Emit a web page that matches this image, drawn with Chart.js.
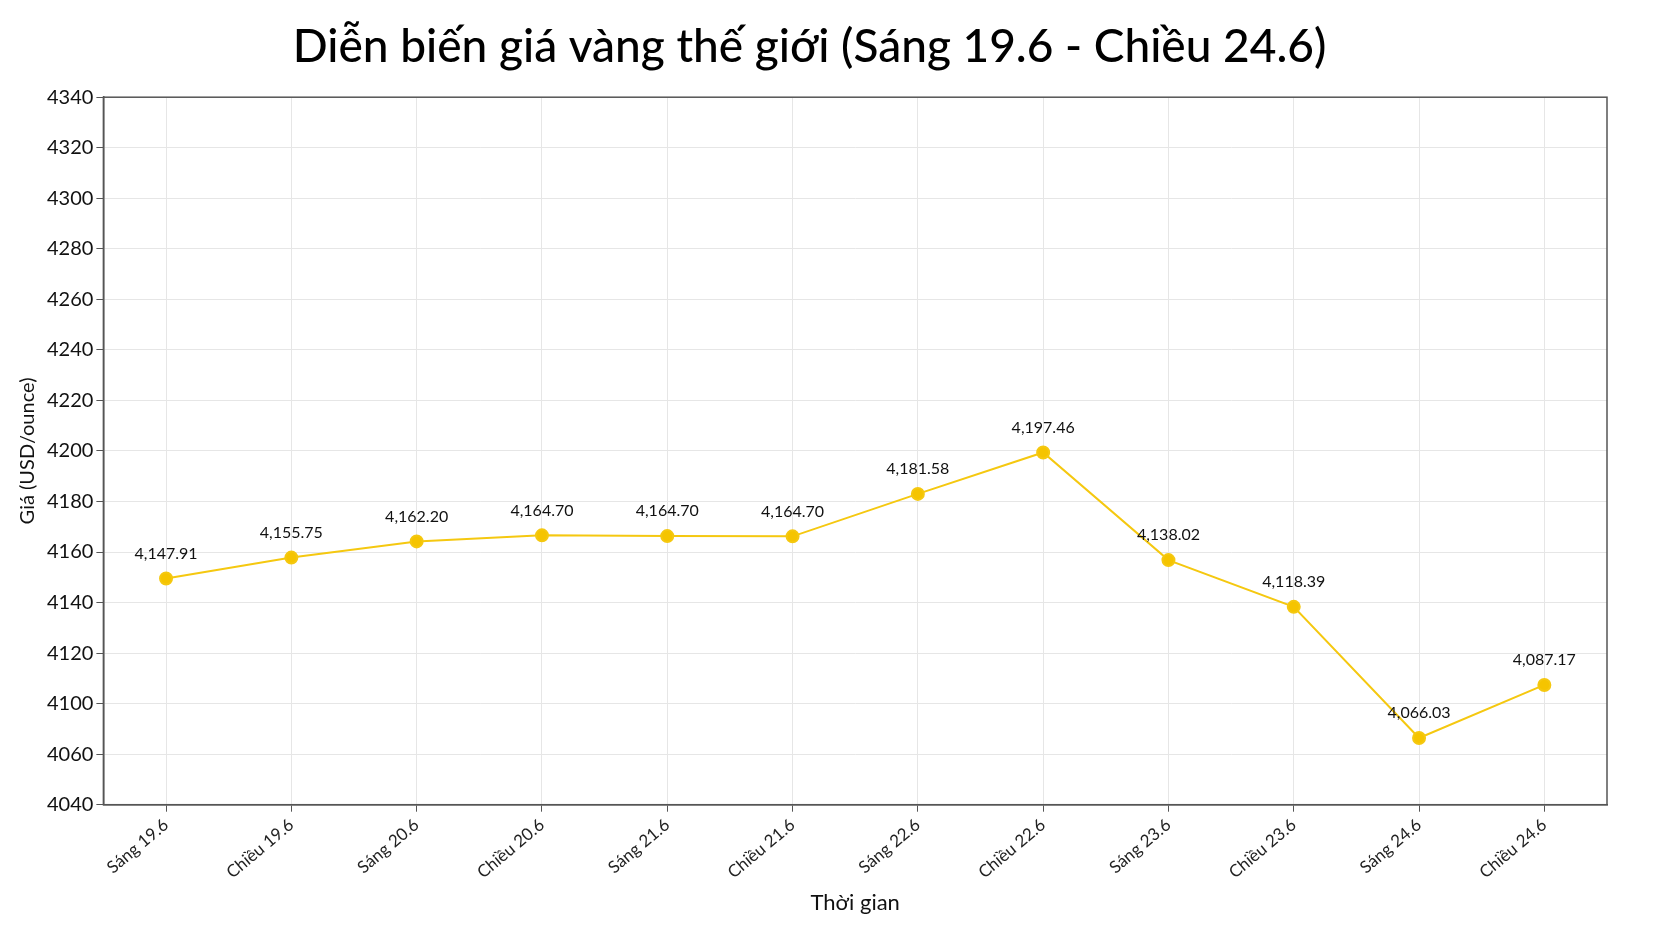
<!DOCTYPE html>
<html>
<head>
<meta charset="utf-8">
<script src="https://cdn.jsdelivr.net/npm/chart.js@4"></script>
<style>
  html, body { margin: 0; padding: 0; background: #fff; }
  #wrap { width: 1677px; height: 938px; }
</style>
</head>
<body>
<div id="wrap"><canvas id="c"></canvas></div>
<script>
// categories and values
const categories = ['Sáng 19.6', 'Chiều 19.6', 'Sáng 20.6', 'Chiều 20.6', 'Sáng 21.6', 'Chiều 21.6',
  'Sáng 22.6', 'Chiều 22.6', 'Sáng 23.6', 'Chiều 23.6', 'Sáng 24.6', 'Chiều 24.6']
const prices = [4149.5, 4157.8, 4164.2, 4166.6, 4166.3, 4166.2, 4183.0, 4199.4, 4156.8, 4138.3, 4086.4, 4107.4]
const priceLabels = ['4,147.91', '4,155.75', '4,162.20', '4,164.70', '4,164.70', '4,164.70',
  '4,181.58', '4,197.46', '4,138.02', '4,118.39', '4,066.03', '4,087.17']
// tick labels as printed on the axis (top to bottom)
const yTickLabels = ['4340', '4320', '4300', '4280', '4260', '4240', '4220', '4200', '4180', '4160',
  '4140', '4120', '4100', '4060', '4040']

const FONT = 'Lato, "Noto Sans", sans-serif'

const valueLabels = {
  id: 'valueLabels',
  afterDatasetsDraw(chart) {
    const ctx = chart.ctx
    const meta = chart.getDatasetMeta(0)
    ctx.save()
    ctx.font = '16px ' + FONT
    ctx.fillStyle = '#111'
    ctx.textAlign = 'center'
    ctx.textBaseline = 'bottom'
    meta.data.forEach((pt, i) => {
      ctx.fillText(priceLabels[i], pt.x, pt.y - 17)
    })
    ctx.restore()
  }
}

new Chart(document.getElementById('c'), {
  type: 'line',
  data: {
    labels: categories,
    datasets: [{
      data: prices,
      borderColor: '#f5c810',
      backgroundColor: '#f5c400',
      borderWidth: 2,
      pointRadius: 6,
      pointHoverRadius: 6,
      tension: 0
    }]
  },
  options: {
    responsive: true,
    maintainAspectRatio: false,
    animation: false,
    layout: { padding: { left: 12, right: 70, top: 10, bottom: 18 } },
    plugins: {
      legend: { display: false },
      tooltip: { enabled: false },
      title: {
        display: true,
        text: 'Diễn biến giá vàng thế giới (Sáng 19.6 - Chiều 24.6)',
        color: '#000',
        font: { family: FONT, size: 46, weight: '500' },
        padding: { top: 10, bottom: 22 }
      }
    },
    scales: {
      x: {
        offset: true,
        border: { display: true, color: '#555', width: 1.5 },
        grid: { color: '#e6e6e6', tickColor: '#555', tickLength: 7, offset: false, drawOnChartArea: true },
        ticks: { color: '#222', font: { family: FONT, size: 17 }, maxRotation: 40, minRotation: 40 },
        title: { display: true, text: 'Thời gian', color: '#111', font: { family: FONT, size: 22 } }
      },
      y: {
        min: 4060,
        max: 4340,
        border: { display: true, color: '#555', width: 1.5, dash: [] },
        grid: { color: '#e6e6e6', tickColor: '#555', tickLength: 7 },
        ticks: {
          stepSize: 20,
          color: '#111',
          font: { family: FONT, size: 20 },
          callback: (v, i, ticks) => yTickLabels[ticks.length - 1 - i]
        },
        title: { display: true, text: 'Giá (USD/ounce)', color: '#111', font: { family: FONT, size: 20 } }
      }
    }
  },
  plugins: [{
    id: 'dashGrid',
    beforeDraw(chart) {
      chart.options.scales.x.grid.tickBorderDash = []
    }
  }, valueLabels, {
    id: 'frame',
    afterDraw(chart) {
      const a = chart.chartArea, ctx = chart.ctx
      ctx.save()
      ctx.strokeStyle = '#555'
      ctx.lineWidth = 1.5
      ctx.strokeRect(a.left, a.top, a.right - a.left, a.bottom - a.top)
      ctx.restore()
    }
  }]
})
</script>
</body>
</html>
